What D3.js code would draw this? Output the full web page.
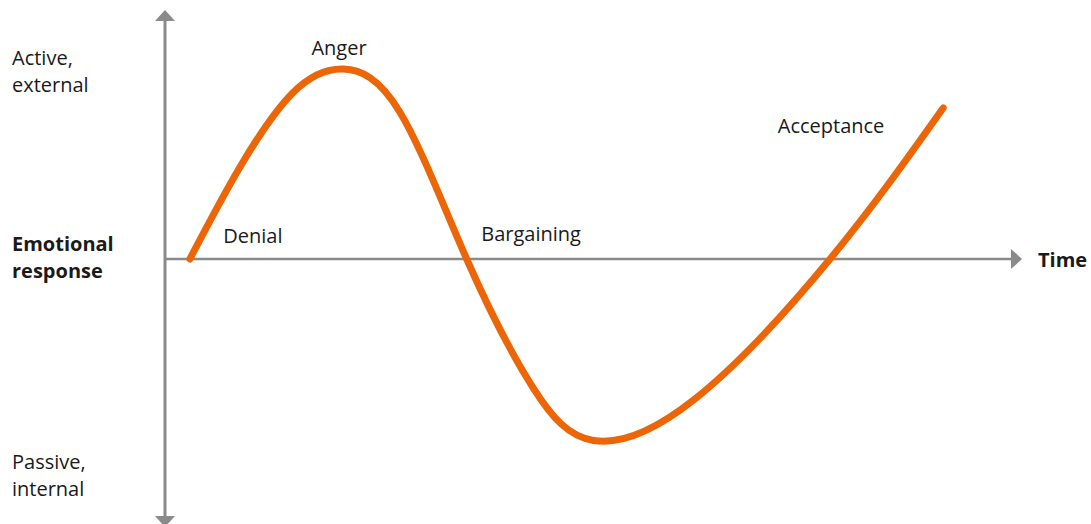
<!DOCTYPE html>
<html>
<head>
<meta charset="utf-8">
<script src="https://cdn.jsdelivr.net/npm/d3@7"></script>
<style>
  html, body { margin: 0; padding: 0; background: #fff; }
  svg text { font-family: "Open Sans", "Noto Sans", sans-serif; fill: #1a1a1a; }
</style>
</head>
<body>
<div id="chart"></div>
<script>
// time runs 0..100 along the x axis, emotional response -100..100
const curve_time     = [2.9, 8.75, 14.9, 20.8, 27.4, 35.2, 42.9, 50.0, 61.6, 77.6, 90.8];
const curve_response = [0, 48.4, 87.4, 100, 77.4, 0, -67.4, -95.5, -74.5, 0, 79.5];

const stage_names    = ["Denial", "Anger", "Bargaining", "Acceptance"];
const stage_time     = [6.8, 20.3, 36.9, 71.5];
const stage_response = [8.4, 107.4, 9.5, 66.3];
const stage_anchor   = ["start", "middle", "start", "start"];

const y_labels_top    = ["Active,", "external"];
const y_labels_mid    = ["Emotional", "response"];
const y_labels_bottom = ["Passive,", "internal"];
const x_label = "Time";

const width = 1091, height = 524;
const axis_color = "#8a8a8a";
const line_color = "#ec6608";

const svg = d3.select("#chart").append("svg")
    .attr("width", width)
    .attr("height", height);

const x = d3.scaleLinear().domain([0, 100]).range([165, 1022]);
const y = d3.scaleLinear().domain([-100, 100]).range([449, 69]);

// axes
const axis_grp = svg.append("g").attr("class", "axes");

axis_grp.append("line")
    .attr("x1", x(0)).attr("x2", x(0))
    .attr("y1", 18).attr("y2", 518)
    .attr("stroke", axis_color)
    .attr("stroke-width", 3);

axis_grp.append("line")
    .attr("x1", x(0)).attr("x2", x(100) - 10)
    .attr("y1", y(0)).attr("y2", y(0))
    .attr("stroke", axis_color)
    .attr("stroke-width", 2.5);

const arrow = d3.line();
// up
axis_grp.append("path")
    .attr("d", arrow([[x(0), 10], [x(0) - 10, 21], [x(0) + 10, 21]]) + "Z")
    .attr("fill", axis_color);
// down
axis_grp.append("path")
    .attr("d", arrow([[x(0), 527], [x(0) - 10, 516], [x(0) + 10, 516]]) + "Z")
    .attr("fill", axis_color);
// right
axis_grp.append("path")
    .attr("d", arrow([[x(100), y(0)], [x(100) - 11, y(0) - 10], [x(100) - 11, y(0) + 10]]) + "Z")
    .attr("fill", axis_color);

// curve
const pts = curve_time.map((t, i) => [t, curve_response[i]]);
const line = d3.line()
    .x(d => x(d[0]))
    .y(d => y(d[1]))
    .curve(d3.curveNatural);

svg.append("path")
    .datum(pts)
    .attr("d", line)
    .attr("fill", "none")
    .attr("stroke", line_color)
    .attr("stroke-width", 7)
    .attr("stroke-linecap", "round")
    .attr("stroke-linejoin", "round");

// stage labels
svg.selectAll(".stage")
    .data(stage_names)
    .join("text")
    .attr("class", "stage")
    .attr("x", (d, i) => x(stage_time[i]))
    .attr("y", (d, i) => y(stage_response[i]))
    .attr("text-anchor", (d, i) => stage_anchor[i])
    .attr("font-size", 20)
    .text(d => d);

// y axis labels
function label_block(lines, top_baseline, bold){
    svg.append("g").selectAll("text")
        .data(lines)
        .join("text")
        .attr("x", 12)
        .attr("y", (d, i) => top_baseline + i * 27)
        .attr("font-size", 20)
        .attr("font-weight", bold ? 700 : 400)
        .text(d => d);
}
label_block(y_labels_top, 65, false);
label_block(y_labels_mid, 251, true);
label_block(y_labels_bottom, 469, false);

svg.append("text")
    .attr("x", 1038)
    .attr("y", y(0) + 8)
    .attr("font-size", 20)
    .attr("font-weight", 700)
    .text(x_label);
</script>
</body>
</html>
